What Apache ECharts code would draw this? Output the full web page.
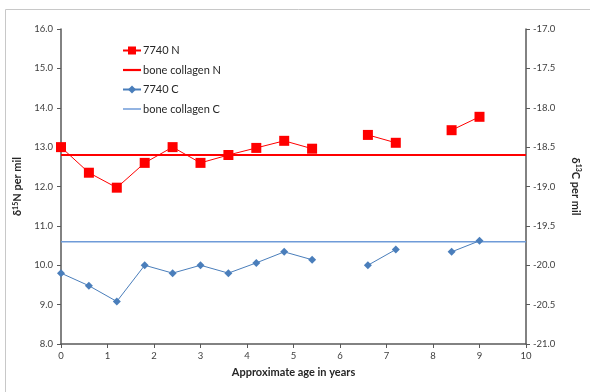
<!DOCTYPE html>
<html><head><meta charset="utf-8">
<script src="https://cdn.jsdelivr.net/npm/echarts@6/dist/echarts.min.js"></script>
<style>html,body{margin:0;padding:0;background:#fff}#c{width:590px;height:392px}</style>
</head><body><div id="c"></div>
<script>
const ages = [0, 0.6, 1.2, 1.8, 2.4, 3.0, 3.6, 4.2, 4.8, 5.4, 6.0, 6.6, 7.2, 7.8, 8.4, 9.0];
const nValues = [13.0, 12.35, 11.97, 12.6, 13.0, 12.6, 12.8, 12.98, 13.16, 12.96, null, 13.31, 13.11, null, 13.43, 13.77];
const cValues = [-20.1, -20.26, -20.46, -20.0, -20.1, -20.0, -20.1, -19.97, -19.83, -19.93, null, -20.0, -19.8, null, -19.83, -19.69];
const boneN = 12.8;
const boneC = -19.7;
const xRange = [0, 10];
const seriesNames = ['7740 N', 'bone collagen N', '7740 C', 'bone collagen C'];

const font = 'Lato, "Liberation Sans", sans-serif';
const axisColor = '#595959';
const labelColor = '#404040';

const nData = ages.map((a, i) => [a, nValues[i] === null ? '-' : nValues[i]]);
const cData = ages.map((a, i) => [a, cValues[i] === null ? '-' : cValues[i]]);

const chart = echarts.init(document.getElementById('c'), null, {renderer: 'canvas'});
chart.setOption({
  animation: false,
  backgroundColor: '#fff',
  textStyle: {fontFamily: font},
  graphic: [{
    type: 'rect', shape: {x: 5.5, y: 9.5, width: 640, height: 440},
    style: {fill: 'none', stroke: '#c8c8c8', lineWidth: 1}, silent: true, z: -1
  }],
  grid: {left: 61, right: 63, top: 29, bottom: 48},
  legend: {
    orient: 'vertical', left: 117, top: 40, itemWidth: 18, itemHeight: 10, itemGap: 8.5,
    textStyle: {fontFamily: font, fontSize: 11, color: '#262626', padding: [0, 0, 0, -3]},
    data: [
      {name: seriesNames[0]},
      {name: seriesNames[1], icon: 'path://M0,0h18v2.2H0z'},
      {name: seriesNames[2]},
      {name: seriesNames[3], icon: 'path://M0,0h18v1.5H0z'}
    ]
  },
  xAxis: {
    type: 'value', min: xRange[0], max: xRange[1], interval: 1,
    name: 'Approximate age in years', nameLocation: 'middle', nameGap: 23,
    nameTextStyle: {fontFamily: font, fontSize: 11, fontWeight: 'bold', color: '#262626'},
    axisLine: {show: true, onZero: false, lineStyle: {color: axisColor, width: 1.5}},
    axisTick: {show: true, inside: false, length: 4, lineStyle: {color: axisColor}},
    axisLabel: {fontFamily: font, fontSize: 9.5, color: labelColor, margin: 7},
    splitLine: {show: false}
  },
  yAxis: [{
    type: 'value', min: 8, max: 16, interval: 1, position: 'left',
    name: 'δ{sup|15}N per mil', nameLocation: 'middle', nameGap: 32, nameRotate: 90,
    nameTextStyle: {fontFamily: font, fontSize: 11, fontWeight: 'bold', color: '#262626',
      rich: {sup: {fontFamily: font, fontSize: 7, fontWeight: 'bold', color: '#262626', verticalAlign: 'top', padding: [0, 0, 5, 0]}}},
    axisLine: {show: true, lineStyle: {color: axisColor, width: 1.5}},
    axisTick: {show: true, inside: false, length: 4, lineStyle: {color: axisColor}},
    axisLabel: {fontFamily: font, fontSize: 9.5, color: labelColor, margin: 8, formatter: v => v.toFixed(1)},
    splitLine: {show: false}
  }, {
    type: 'value', min: -21, max: -17, interval: 0.5, position: 'right',
    name: 'δ{sup|13}C per mil', nameLocation: 'middle', nameGap: 44, nameRotate: -90,
    nameTextStyle: {fontFamily: font, fontSize: 11, fontWeight: 'bold', color: '#262626',
      rich: {sup: {fontFamily: font, fontSize: 7, fontWeight: 'bold', color: '#262626', verticalAlign: 'top', padding: [0, 0, 5, 0]}}},
    axisLine: {show: true, lineStyle: {color: axisColor, width: 1.5}},
    axisTick: {show: true, inside: false, length: 4, lineStyle: {color: axisColor}},
    axisLabel: {fontFamily: font, fontSize: 9.5, color: labelColor, margin: 7, formatter: v => v.toFixed(1)},
    splitLine: {show: false}
  }],
  series: [{
    name: seriesNames[0], type: 'line', yAxisIndex: 0, data: nData, connectNulls: false,
    symbol: 'rect', symbolSize: 10, showAllSymbol: true,
    lineStyle: {color: '#ff0000', width: 1}, itemStyle: {color: '#ff0000'}, z: 3
  }, {
    name: seriesNames[1], type: 'line', yAxisIndex: 0, symbol: 'none',
    data: [[xRange[0], boneN], [xRange[1], boneN]],
    lineStyle: {color: '#ff0000', width: 2.2}, itemStyle: {color: '#ff0000'}, z: 2
  }, {
    name: seriesNames[2], type: 'line', yAxisIndex: 1, data: cData, connectNulls: false,
    symbol: 'diamond', symbolSize: 8, showAllSymbol: true,
    lineStyle: {color: '#4a7ebb', width: 1}, itemStyle: {color: '#4a7ebb'}, z: 3
  }, {
    name: seriesNames[3], type: 'line', yAxisIndex: 1, symbol: 'none',
    data: [[xRange[0], boneC], [xRange[1], boneC]],
    lineStyle: {color: '#6f9bd8', width: 1.5}, itemStyle: {color: '#6f9bd8'}, z: 2
  }]
});
</script></body></html>
